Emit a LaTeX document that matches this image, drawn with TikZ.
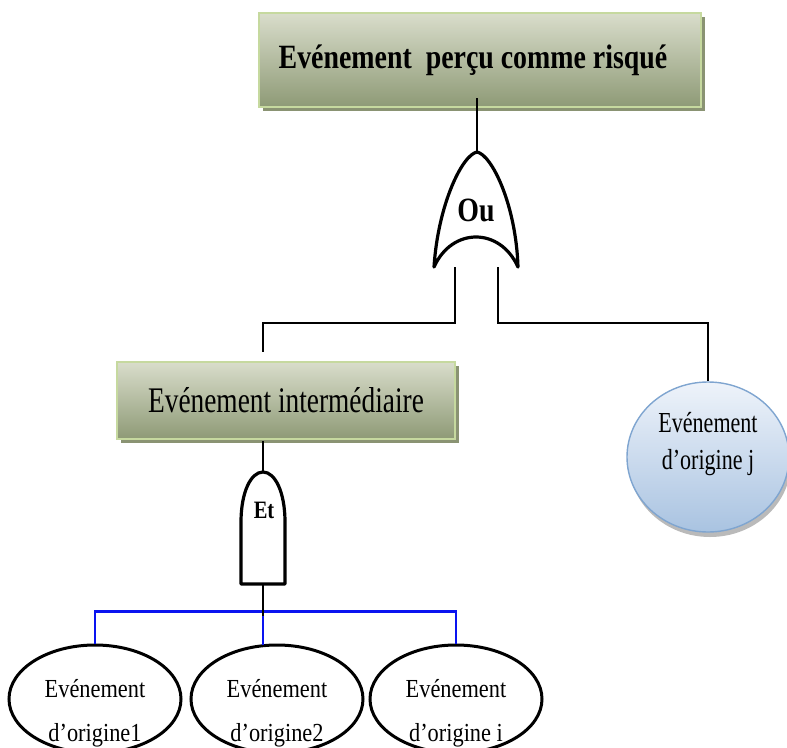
\documentclass[tikz,border=0pt]{standalone}
\usepackage{fontspec}
\setmainfont{Liberation Serif}
\newfontfamily\boxfont[FakeStretch=0.82]{Liberation Serif}
\newfontfamily\midfont[FakeStretch=0.76]{Liberation Serif}
\newfontfamily\leaffont[FakeStretch=0.86]{Liberation Serif}
\usetikzlibrary{shapes.geometric,shadows}

\definecolor{boxtop}{HTML}{D9DDCB}
\definecolor{boxbot}{HTML}{8E9A76}
\definecolor{boxedge}{HTML}{C6D99F}
\definecolor{boxshadow}{HTML}{8A9373}
\definecolor{jtop}{HTML}{EEF3FA}
\definecolor{jbot}{HTML}{A9C3E1}
\definecolor{jedge}{HTML}{7FA5D0}
\definecolor{busblue}{HTML}{0A14F0}

\begin{document}
\begin{tikzpicture}[x=1pt,y=-1pt,
  eventbox/.style={rectangle, draw=boxedge, line width=2pt,
    top color=boxtop, bottom color=boxbot,
    drop shadow={shadow xshift=4pt, shadow yshift=-4pt, fill=boxshadow, opacity=1},
    inner sep=0pt},
  leaf/.style={ellipse, draw=black, line width=3pt, fill=white,
    minimum width=172pt, minimum height=108pt, inner sep=0pt},
  jleaf/.style={ellipse, draw=jedge, line width=1.4pt,
    top color=jtop, bottom color=jbot,
    drop shadow={shadow xshift=2pt, shadow yshift=-5pt, fill=black!45, opacity=0.6},
    minimum width=162pt, minimum height=150pt, inner sep=0pt},
  gate/.style={draw=black, line width=3.2pt, fill=white, line join=round},
  wire/.style={draw=black, line width=2.4pt},
  bus/.style={draw=busblue, line width=2.6pt},
  lbl/.style={align=center, inner sep=0pt},
  leaftext/.style={lbl, font=\leaffont\fontsize{26}{44}\selectfont}
]
\useasboundingbox (0,0) rectangle (787,747);

% top event
\node[eventbox, minimum width=442pt, minimum height=94pt,
  font=\boxfont\bfseries\fontsize{34}{38}\selectfont] (top) at (480,60)
  {\hspace*{-14pt}Evénement\ \ perçu comme risqué};

% OR gate
\coordinate (orTop) at (477,152);
\coordinate (orTipL) at (434,267);
\coordinate (orTipR) at (518,267);
\draw[gate] (orTop) .. controls (462,155) and (438,205) .. (orTipL)
  .. controls (452,227) and (500,227) .. (orTipR)
  .. controls (516,205) and (492,155) .. (orTop) -- cycle;
\node[lbl, font=\boxfont\bfseries\fontsize{34}{36}\selectfont] (orLbl) at (476,210) {Ou};
\coordinate (legL) at (455,267);
\coordinate (legR) at (498,267);

% intermediate event
\node[eventbox, minimum width=338pt, minimum height=77pt,
  font=\midfont\fontsize{36}{40}\selectfont] (mid) at (286,400.5)
  {Evénement intermédiaire};
\coordinate (midIn) at (263,352);
\coordinate (midOut) at (263,441);

% basic event j
\node[jleaf] (oj) at (708,457) {};
\node[lbl, font=\midfont\fontsize{29}{37}\selectfont] (ojLbl) at (708,444)
  {Evénement\\d’origine j};

% AND gate
\coordinate (andTop) at (263,472);
\coordinate (andBot) at (263,584);
\draw[gate] (241,584) -- (241,522) .. controls (241,492) and (251,472) .. (andTop)
  .. controls (275,472) and (285,492) .. (285,522) -- (285,584) -- cycle;
\node[lbl, font=\boxfont\bfseries\fontsize{25}{27}\selectfont] (andLbl) at (264,510) {Et};

% basic events 1, 2, i
\node[leaf] (o1) at (95,699) {};
\node[leaf] (o2) at (277,699) {};
\node[leaf] (o3) at (456,699) {};
\node[leaftext] (o1Lbl) at (95,713) {Evénement\\d’origine1};
\node[leaftext] (o2Lbl) at (277,713) {Evénement\\d’origine2};
\node[leaftext] (o3Lbl) at (456,713) {Evénement\\d’origine i};
\coordinate (o2In) at (263,645);

% connectors
\draw[wire] ([yshift=10pt]top.south -| orTop) -- (orTop);
\draw[wire] (legL) -- ++(0,56) -| (midIn);
\draw[wire] (legR) -- ++(0,56) -| (oj.north);
\draw[wire] (midOut) -- (andTop);
\draw[bus] (o1.north) -- ++(0,-32) -| (o3.north);
\draw[bus] (o2In) -- ++(0,-32);
\draw[wire] (andBot) -- ++(0,32);
\end{tikzpicture}
\end{document}
